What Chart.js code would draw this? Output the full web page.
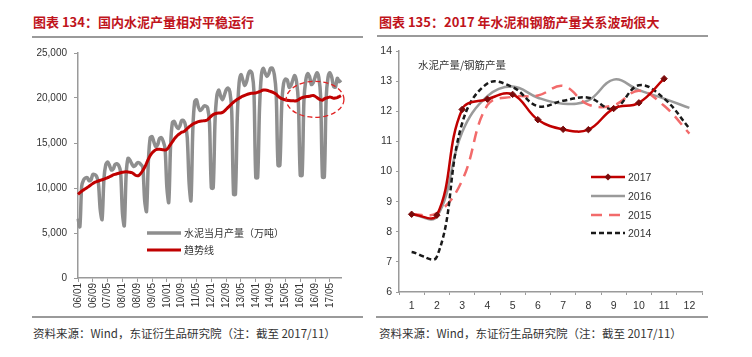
<!DOCTYPE html>
<html><head><meta charset="utf-8">
<script src="https://cdn.jsdelivr.net/npm/chart.js@4"></script>
<style>
html,body{margin:0;padding:0;background:#fff;}
#wrap{position:relative;width:752px;height:357px;overflow:hidden;background:#fff;font-family:"Noto Sans CJK SC","Liberation Sans",sans-serif;}
.title{position:absolute;top:13px;font-size:13px;font-weight:bold;color:#c0141c;white-space:nowrap;line-height:18px;}
.rule{position:absolute;height:1.5px;background:#9a9a9a;}
.src{position:absolute;top:325px;font-size:11.5px;color:#333;white-space:nowrap;line-height:16px;}
canvas{position:absolute;}
.leg{position:absolute;white-space:nowrap;color:#333;}
.leg svg{position:absolute;left:0;}
.note{position:absolute;font-size:10.5px;color:#333;white-space:nowrap;}
</style></head>
<body><div id="wrap">
<div class="title" style="left:33px;">图表 134：国内水泥产量相对平稳运行</div>
<div class="rule" style="left:32px;top:36px;width:331px;"></div>
<div class="title" style="left:379px;">图表 135：2017 年水泥和钢筋产量关系波动很大</div>
<div class="rule" style="left:377px;top:35px;width:331px;"></div>

<canvas id="c1" width="376" height="280" style="left:0;top:40px;"></canvas>
<canvas id="c2" width="376" height="280" style="left:376px;top:40px;"></canvas>

<div class="rule" style="left:32px;top:316px;width:331px;"></div>
<div class="rule" style="left:376px;top:316px;width:332px;"></div>
<div class="src" style="left:33px;">资料来源：Wind，东证衍生品研究院（注：截至 2017/11）</div>
<div class="src" style="left:379px;">资料来源：Wind，东证衍生品研究院（注：截至 2017/11）</div>

<div class="note" style="left:418px;top:57px;">水泥产量/钢筋产量</div>

<div id="leg1"></div>
<div id="leg2"></div>
</div>
<script>
// ---------------- Left chart data ----------------
const YEARS = [2006,2007,2008,2009,2010,2011,2012,2013,2014,2015,2016,2017];
const LAST_MONTH_2017 = 11;
const X_TICK_LABELS = ['06/01','06/09','07/05','08/01','08/09','09/05','10/01','10/09','11/05','12/01','12/09','13/05','14/01','14/09','15/05','16/01','16/09','17/05'];
const CEMENT_MONTHLY = [
  6600, 5700, 10200, 10900, 11100, 11150, 10800, 10900, 11500, 11500, 11300, 10600,
  7600, 6500, 11000, 12600, 12900, 12500, 12000, 12100, 12600, 12700, 12500, 11800,
  7200, 5800, 11500, 13300, 13100, 12700, 12400, 12500, 12800, 12800, 12600, 12300,
  8600, 7400, 13000, 15600, 15700, 15100, 14600, 14800, 15500, 15600, 15200, 14400,
  10000, 8400, 14800, 17300, 17400, 16900, 16600, 16900, 17500, 17500, 17000, 15600,
  10500, 8600, 16500, 19600, 19800, 19000, 18600, 18800, 19100, 19100, 18900, 17200,
  10000, 10000, 17500, 20300, 20900, 20200, 19800, 20300, 20900, 21100, 20700, 18500,
  9300, 9300, 17800, 21700, 22600, 22000, 21400, 21800, 22700, 23000, 22700, 20700,
  11150, 11150, 18800, 22500, 23300, 22800, 22400, 22700, 23300, 23300, 22600, 20500,
  12500, 12500, 19200, 21600, 22100, 22000, 21200, 21400, 22000, 22500, 21800, 19500,
  11400, 11400, 19800, 22000, 22700, 22400, 21500, 21700, 22300, 22800, 22300, 20200,
  11200, 11200, 20000, 22300, 22800, 22300, 21300, 21200, 22200, 21800, 22000
];
const TREND = [
  9300, 9480, 9640, 9780, 9920, 10050, 10200, 10350, 10500, 10620, 10700, 10780,
  10850, 10920, 10980, 11060, 11150, 11250, 11350, 11450, 11520, 11580, 11640, 11700,
  11760, 11790, 11800, 11790, 11760, 11700, 11580, 11420, 11350, 11420, 11650, 11950,
  12300, 12750, 13200, 13600, 13900, 14100, 14250, 14300, 14300, 14280, 14250, 14220,
  14300, 14550, 14850, 15150, 15450, 15700, 15900, 16050, 16200, 16250, 16400, 16600,
  16800, 16950, 17100, 17200, 17300, 17380, 17420, 17450, 17480, 17500, 17600, 17800,
  18000, 18150, 18250, 18300, 18330, 18330, 18400, 18550, 18750, 18950, 19150, 19350,
  19550, 19700, 19850, 19980, 20100, 20200, 20300, 20380, 20450, 20500, 20520, 20540,
  20560, 20620, 20700, 20800, 20880, 20900, 20870, 20800, 20720, 20650, 20550, 20420,
  20200, 20050, 19920, 19850, 19800, 19750, 19720, 19700, 19700, 19680, 19700, 19800,
  19950, 20050, 20100, 20150, 20170, 20200, 20250, 20280, 20200, 20050, 19900, 19800,
  19750, 19900, 20000, 20050, 20100, 20050, 19980, 20000, 20050, 20150, 20250
];
const Y1_TICKS = [0, 5000, 10000, 15000, 20000, 25000];
// highlighted region (data units): centre month index, centre value, half-span
const HIGHLIGHT = {cx: 128, cy: 19850, rx: 15.6, ry: 2000};

// ---------------- Right chart data ----------------
const MONTHS_12 = ['1','2','3','4','5','6','7','8','9','10','11','12'];
const RATIO_2017 = [8.58, 8.55, 12.06, 12.40, 12.56, 11.72, 11.40, 11.39, 12.09, 12.28, 13.08, null];
const RATIO_2016 = [8.58, 8.50, 11.30, 12.50, 12.82, 12.45, 12.25, 12.36, 13.05, 12.70, 12.42, 12.11];
const RATIO_2015 = [8.58, 8.62, 9.70, 12.20, 12.48, 12.52, 12.84, 12.22, 12.20, 12.68, 12.18, 11.26];
const RATIO_2014 = [7.33, 7.17, 11.60, 12.92, 12.80, 12.17, 12.35, 12.45, 12.08, 12.86, 12.42, 11.43];
const Y2_TICKS = [6,7,8,9,10,11,12,13,14];

// ---------------- build ----------------
const monthLabels = [];
YEARS.forEach(y => {
  const n = y === 2017 ? LAST_MONTH_2017 : 12;
  for (let m = 1; m <= n; m++) monthLabels.push(String(y).slice(2) + '/' + String(m).padStart(2,'0'));
});
const tickSet = new Set(X_TICK_LABELS);
const FONT = {family: '"Liberation Sans", Arial, sans-serif', size: 10};
const AX = '#9a9a9a';

const ellipsePlugin = {
  id: 'ellipse',
  afterDatasetsDraw(chart) {
    const x = chart.scales.x, y = chart.scales.y, ctx = chart.ctx;
    const cx = x.getPixelForValue(HIGHLIGHT.cx);
    const cy = y.getPixelForValue(HIGHLIGHT.cy);
    const rx = Math.abs(x.getPixelForValue(HIGHLIGHT.cx + HIGHLIGHT.rx) - cx);
    const ry = Math.abs(y.getPixelForValue(HIGHLIGHT.cy + HIGHLIGHT.ry) - cy);
    ctx.save();
    ctx.beginPath();
    ctx.setLineDash([5, 3]);
    ctx.strokeStyle = '#e02424';
    ctx.lineWidth = 1.3;
    ctx.ellipse(cx, cy, rx, ry, 0, 0, Math.PI * 2);
    ctx.stroke();
    ctx.restore();
  }
};

new Chart(document.getElementById('c1'), {
  type: 'line',
  data: {
    labels: monthLabels,
    datasets: [
      {label: '趋势线', data: TREND, borderColor: '#c00000', borderWidth: 3, pointRadius: 0, tension: 0.3, order: 0},
      {label: '水泥当月产量（万吨）', data: CEMENT_MONTHLY, borderColor: '#8e8e8e', borderWidth: 3.5, pointRadius: 0, tension: 0.3, order: 1}
    ]
  },
  options: {
    responsive: false, animation: false, devicePixelRatio: 1,
    layout: {padding: {top: 11, right: 35, left: 0, bottom: 0}},
    plugins: {legend: {display: false}, tooltip: {enabled: false}},
    scales: {
      x: {
        type: 'category', offset: false,
        afterFit: s => { s.height = 42; },
        border: {color: AX, width: 1.5},
        grid: {drawOnChartArea: false, tickLength: 4, color: AX,
               tickColor: c => (c.tick && tickSet.has(monthLabels[c.index])) ? AX : 'rgba(0,0,0,0)'},
        ticks: {autoSkip: false, maxRotation: 90, minRotation: 90, padding: 1, color: '#333', font: FONT,
                callback: (v, i) => tickSet.has(monthLabels[i]) ? monthLabels[i] : ''}
      },
      y: {
        min: 0, max: 25000,
        afterFit: s => { s.width = 78; },
        afterBuildTicks: s => { s.ticks = Y1_TICKS.map(v => ({value: v})); },
        border: {color: AX, width: 1.5},
        grid: {drawOnChartArea: false, tickLength: 4, color: AX},
        ticks: {padding: 7, color: '#333', font: FONT, callback: v => v.toLocaleString('en-US')}
      }
    }
  },
  plugins: [ellipsePlugin]
});

const FONT2 = {family: '"Liberation Sans", Arial, sans-serif', size: 10.5};
new Chart(document.getElementById('c2'), {
  type: 'line',
  data: {
    labels: MONTHS_12,
    datasets: [
      {label: '2017', data: RATIO_2017, borderColor: '#c00000', borderWidth: 2.5, tension: 0.4,
       pointStyle: 'rectRot', pointRadius: 3.2, pointBackgroundColor: '#7a0a0a', pointBorderColor: '#7a0a0a', pointBorderWidth: 1, order: 0},
      {label: '2016', data: RATIO_2016, borderColor: '#9a9a9a', borderWidth: 2.5, pointRadius: 0, tension: 0.4, order: 3},
      {label: '2015', data: RATIO_2015, borderColor: '#f26b6b', borderWidth: 2.5, borderDash: [11, 7], pointRadius: 0, tension: 0.4, order: 2},
      {label: '2014', data: RATIO_2014, borderColor: '#1a1a1a', borderWidth: 2.5, borderDash: [5, 3], pointRadius: 0, tension: 0.4, order: 1}
    ]
  },
  options: {
    responsive: false, animation: false, devicePixelRatio: 1,
    layout: {padding: {top: 11, right: 50, left: 0, bottom: 0}},
    plugins: {legend: {display: false}, tooltip: {enabled: false}},
    scales: {
      x: {
        type: 'category', offset: true,
        afterFit: s => { s.height = 28; },
        border: {color: AX, width: 1.5},
        grid: {drawOnChartArea: false, offset: true, tickLength: 3, color: AX},
        ticks: {padding: 5, color: '#333', font: FONT2, maxRotation: 0}
      },
      y: {
        min: 6, max: 14,
        afterFit: s => { s.width = 23; },
        afterBuildTicks: s => { s.ticks = Y2_TICKS.map(v => ({value: v})); },
        border: {color: AX, width: 1.5},
        grid: {drawOnChartArea: false, tickLength: 3, color: AX},
        ticks: {padding: 4, color: '#333', font: FONT2}
      }
    }
  }
});

// ---------------- legends (HTML text) ----------------
function legendItem(parent, left, top, text, stroke, width, dash, marker, fontSize, fontFamily) {
  const d = document.createElement('div');
  d.className = 'leg';
  d.style.left = left + 'px';
  d.style.top = (top - 9) + 'px';
  d.style.height = '18px';
  d.style.fontSize = fontSize + 'px';
  d.style.fontFamily = fontFamily;
  d.style.lineHeight = '18px';
  d.style.paddingLeft = '37px';
  let svg = '<svg width="34" height="18"><line x1="0" y1="9" x2="34" y2="9" stroke="' + stroke + '" stroke-width="' + width + '"' +
            (dash ? ' stroke-dasharray="' + dash + '"' : '') + '/>';
  if (marker) svg += '<polygon points="17,5.5 20.5,9 17,12.5 13.5,9" fill="#7a0a0a"/>';
  svg += '</svg>';
  d.innerHTML = svg + '<span>' + text + '</span>';
  document.getElementById(parent).appendChild(d);
}
const CJK = '"Noto Sans CJK SC", sans-serif';
const LAT = '"Liberation Sans", Arial, sans-serif';
legendItem('leg1', 147, 233, '水泥当月产量（万吨）', '#8e8e8e', 3.5, null, false, 10, CJK);
legendItem('leg1', 147, 250, '趋势线', '#c00000', 3, null, false, 10, CJK);
legendItem('leg2', 591, 177, '2017', '#c00000', 2.5, null, true, 10.5, LAT);
legendItem('leg2', 591, 196, '2016', '#9a9a9a', 2.5, null, false, 10.5, LAT);
legendItem('leg2', 591, 215, '2015', '#f26b6b', 2.5, '11,7', false, 10.5, LAT);
legendItem('leg2', 591, 233, '2014', '#1a1a1a', 2.5, '5,3', false, 10.5, LAT);
</script>
</body></html>
